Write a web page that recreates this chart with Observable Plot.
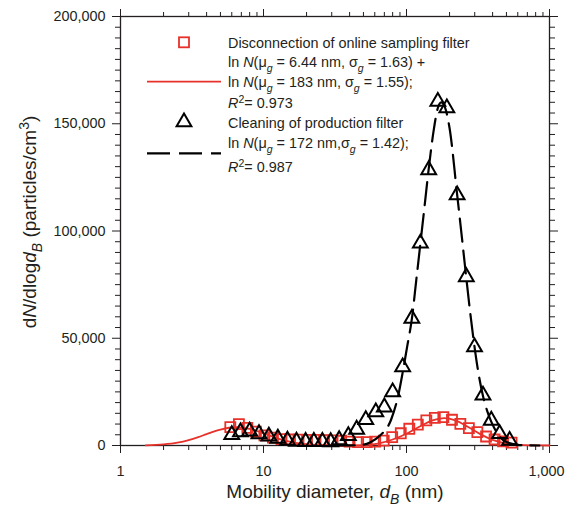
<!DOCTYPE html>
<html><head><meta charset="utf-8">
<script src="https://cdn.jsdelivr.net/npm/d3@7"></script>
<script src="https://cdn.jsdelivr.net/npm/@observablehq/plot@0.6"></script>
<style>
html,body{margin:0;padding:0;background:#fff;}
#chart{width:565px;height:509px;overflow:hidden;}
svg{display:block;}
</style></head><body><div id="chart"></div>
<script>
// ---- Data ----
// Disconnection of online sampling filter: measured points (nm, particles/cm3)
const onlineDiam = [5.86, 6.73, 7.71, 8.85, 10.15, 11.64, 13.36, 15.32, 17.57, 20.15, 23.1, 26.5, 30.4, 34.9, 40.0, 45.9, 52.7, 60.4, 69.3, 79.4, 91.2, 104.6, 120, 137.6, 157.8, 181, 208, 238, 273, 313, 360, 413, 473, 543];
const onlineConc = [8600, 10000, 8200, 6500, 4700, 3700, 3000, 2800, 2700, 2600, 2600, 2500, 2400, 2200, 1800, 1600, 1600, 1800, 2300, 3900, 5700, 7800, 9700, 11700, 12900, 13200, 12000, 10100, 8100, 6200, 4200, 2800, 1900, 1300];
// Cleaning of production filter: measured points
const cleanDiam = [6.0, 6.9, 8.0, 9.3, 10.9, 12.6, 14.7, 17.0, 19.7, 22.5, 25.8, 29.5, 33.8, 39.2, 44.8, 51.9, 61, 70, 80, 94, 109, 125, 143, 165.6, 191.5, 226, 262, 299, 342.6, 391.6, 448, 526];
const cleanConc = [5000, 6300, 6600, 5400, 4300, 3300, 2400, 1900, 1800, 1800, 1800, 1700, 2600, 4500, 7500, 12000, 15600, 17900, 24900, 36600, 59200, 94300, 128500, 160400, 157300, 116800, 78600, 45900, 23400, 11700, 5500, 2300];
// Bimodal lognormal fit (red line)
const fitOnlineDiam = [1.5, 2, 2.5, 3, 3.5, 4, 5, 6.4, 8, 10, 13, 16, 20, 25, 32, 40, 50, 63, 80, 100, 125, 150, 183, 220, 270, 330, 400, 500, 630, 800, 1000];
const fitOnlineConc = [100, 500, 1300, 2500, 3900, 5300, 7400, 8500, 7700, 5700, 3000, 1500, 600, 200, 60, 60, 200, 900, 2800, 5500, 9000, 11600, 12800, 11700, 8600, 5200, 2600, 900, 250, 40, 0];
// Unimodal lognormal fit (black dashed line)
const fitCleanDiam = [30, 40, 50, 56, 65, 78, 88, 94, 101, 109, 117, 125, 134, 143, 155, 165, 175, 185, 200, 226, 244, 262, 280, 299, 320, 343, 367, 392, 420, 450, 500, 600, 700, 850];
const fitCleanConc = [0, 50, 400, 1500, 4500, 12000, 24000, 34000, 46000, 59000, 77000, 94000, 112000, 129000, 147000, 157000, 160000, 158000, 148000, 117000, 97000, 78000, 61000, 46000, 33000, 23000, 16000, 11000, 7000, 4000, 1600, 300, 50, 0];

// Axis ticks
const xMajorTicks = [1, 10, 100, 1000];
const xMinorTicks = [2, 3, 4, 5, 6, 7, 8, 9, 20, 30, 40, 50, 60, 70, 80, 90, 200, 300, 400, 500, 600, 700, 800, 900];
const yMajorTicks = [0, 50000, 100000, 150000, 200000];
const yMinorTicks = d3.range(5000, 200000, 5000).filter(v => v % 50000 !== 0);

// ---- Build tables ----
const online = onlineDiam.map((d, i) => ({d, v: onlineConc[i]}));
const clean = cleanDiam.map((d, i) => ({d, v: cleanConc[i]}));
const fitOnline = fitOnlineDiam.map((d, i) => ({d, v: fitOnlineConc[i]}));
const fitClean = fitCleanDiam.map((d, i) => ({d, v: fitCleanConc[i]}));

const RED = "#e8312a";
const INK = "#231f20";
const FONT = "'Liberation Sans', Arial, Helvetica, sans-serif";
const blank = () => "";

const svg = Plot.plot({
  width: 565, height: 509,
  marginLeft: 120, marginRight: 16, marginTop: 16, marginBottom: 64,
  style: {fontFamily: FONT, fontSize: "14.4px", color: INK, background: "white", overflow: "visible"},
  x: {type: "log", domain: [1, 1000]},
  y: {domain: [0, 200000]},
  marks: [
    Plot.axisX({anchor: "bottom", ticks: xMajorTicks, tickSize: 8, tickPadding: 12, tickFormat: d3.format(","), label: null, stroke: INK}),
    Plot.axisX({anchor: "bottom", ticks: xMinorTicks, tickSize: 5, tickFormat: blank, label: null, stroke: INK}),
    Plot.axisX({anchor: "top", ticks: xMajorTicks, tickSize: 8, tickFormat: blank, label: null, stroke: INK}),
    Plot.axisX({anchor: "top", ticks: xMinorTicks, tickSize: 5, tickFormat: blank, label: null, stroke: INK}),
    Plot.axisY({anchor: "left", ticks: yMajorTicks, tickSize: 8, tickPadding: 7, tickFormat: d3.format(","), label: null, stroke: INK}),
    Plot.axisY({anchor: "left", ticks: yMinorTicks, tickSize: 5, tickFormat: blank, label: null, stroke: INK}),
    Plot.axisY({anchor: "right", ticks: yMajorTicks, tickSize: 8, tickFormat: blank, label: null, stroke: INK}),
    Plot.axisY({anchor: "right", ticks: yMinorTicks, tickSize: 5, tickFormat: blank, label: null, stroke: INK}),
    Plot.frame({stroke: INK, strokeWidth: 1.3}),
    Plot.line(fitOnline, {x: "d", y: "v", stroke: RED, strokeWidth: 1.8, curve: "monotone-x"}),
    Plot.dot(online, {x: "d", y: "v", symbol: "square", r: 5.65, stroke: RED, strokeWidth: 1.8, fill: "none"}),
    Plot.line(fitClean, {x: "d", y: "v", stroke: "black", strokeWidth: 2.2, strokeDasharray: "23,9", curve: "monotone-x"}),
    Plot.dot(clean, {x: "d", y: "v", symbol: "triangle", r: 5.5, stroke: "black", strokeWidth: 2, fill: "none"})
  ]
});

document.getElementById("chart").appendChild(svg);

const s = d3.select(svg);
// keep the "1,000" tick label inside the picture
s.selectAll("text").filter(function () { return this.textContent === "1,000"; }).attr("dx", -3);

// ---- Rich-text labels and legend ----
function richText(parent, parts, attrs) {
  const t = parent.append("text").attr("font-family", FONT).attr("fill", INK).attr("text-anchor", "start");
  for (const [k, v] of Object.entries(attrs)) t.attr(k, v);
  let shift = 0;
  for (const p of parts) {
    const span = t.append("tspan").text(p.t);
    const target = p.dy || 0;
    if (target !== shift) { span.attr("dy", target - shift); shift = target; }
    if (p.i) span.attr("font-style", "italic");
    if (p.fs) span.attr("font-size", p.fs);
  }
  return t;
}

// Axis titles
richText(s, [
  {t: "Mobility diameter, "}, {t: "d", i: 1}, {t: "B", i: 1, dy: 6, fs: 14}, {t: " (nm)"}
], {x: 335, y: 498, "text-anchor": "middle", "font-size": 19});

richText(s.append("g").attr("transform", "translate(36,222) rotate(-90)"), [
  {t: "d"}, {t: "N", i: 1}, {t: "/dlog"}, {t: "d", i: 1}, {t: "B", i: 1, dy: 6, fs: 14},
  {t: " (particles/cm"}, {t: "3", dy: -7, fs: 14}, {t: ")"}
], {x: 0, y: 0, "text-anchor": "middle", "font-size": 19});

// Legend
const lg = s.append("g").attr("text-anchor", "start");
lg.append("rect").attr("x", 179).attr("y", 37.3).attr("width", 10).attr("height", 10)
  .attr("fill", "none").attr("stroke", RED).attr("stroke-width", 1.8);
lg.append("line").attr("x1", 147).attr("x2", 221).attr("y1", 81.7).attr("y2", 81.7)
  .attr("stroke", RED).attr("stroke-width", 1.8);
lg.append("path").attr("d", d3.symbol(d3.symbolTriangle, Math.PI * 5.5 * 5.5)())
  .attr("transform", "translate(184,122)").attr("fill", "none").attr("stroke", "black").attr("stroke-width", 2);
lg.append("line").attr("x1", 147).attr("x2", 221).attr("y1", 153.3).attr("y2", 153.3)
  .attr("stroke", "black").attr("stroke-width", 2.2).attr("stroke-dasharray", "23,9");

const LX = 228, LFS = 14.4, SUB = 10.5;
const lnN = (mu, sg, tail) => [
  {t: "ln "}, {t: "N", i: 1}, {t: "(μ"}, {t: "g", i: 1, dy: 5, fs: SUB},
  {t: " = " + mu + " nm," + (tail.tight ? "" : " ") + "σ"}, {t: "g", i: 1, dy: 5, fs: SUB}, {t: " = " + sg + tail.end}
];
const rsq = v => [{t: "R", i: 1}, {t: "2", dy: -5, fs: SUB}, {t: "= " + v}];
const legendLines = [
  {y: 48.3, parts: [{t: "Disconnection of online sampling filter"}]},
  {y: 67.3, parts: lnN("6.44", "1.63", {end: ") +"})},
  {y: 86.7, parts: lnN("183", "1.55", {end: ");"})},
  {y: 108.3, parts: rsq("0.973")},
  {y: 128.3, parts: [{t: "Cleaning of production filter"}]},
  {y: 148.3, parts: lnN("172", "1.42", {end: ");", tight: true})},
  {y: 171.7, parts: rsq("0.987")}
];
for (const L of legendLines) richText(lg, L.parts, {x: LX, y: L.y, "font-size": LFS});
</script>
</body></html>
